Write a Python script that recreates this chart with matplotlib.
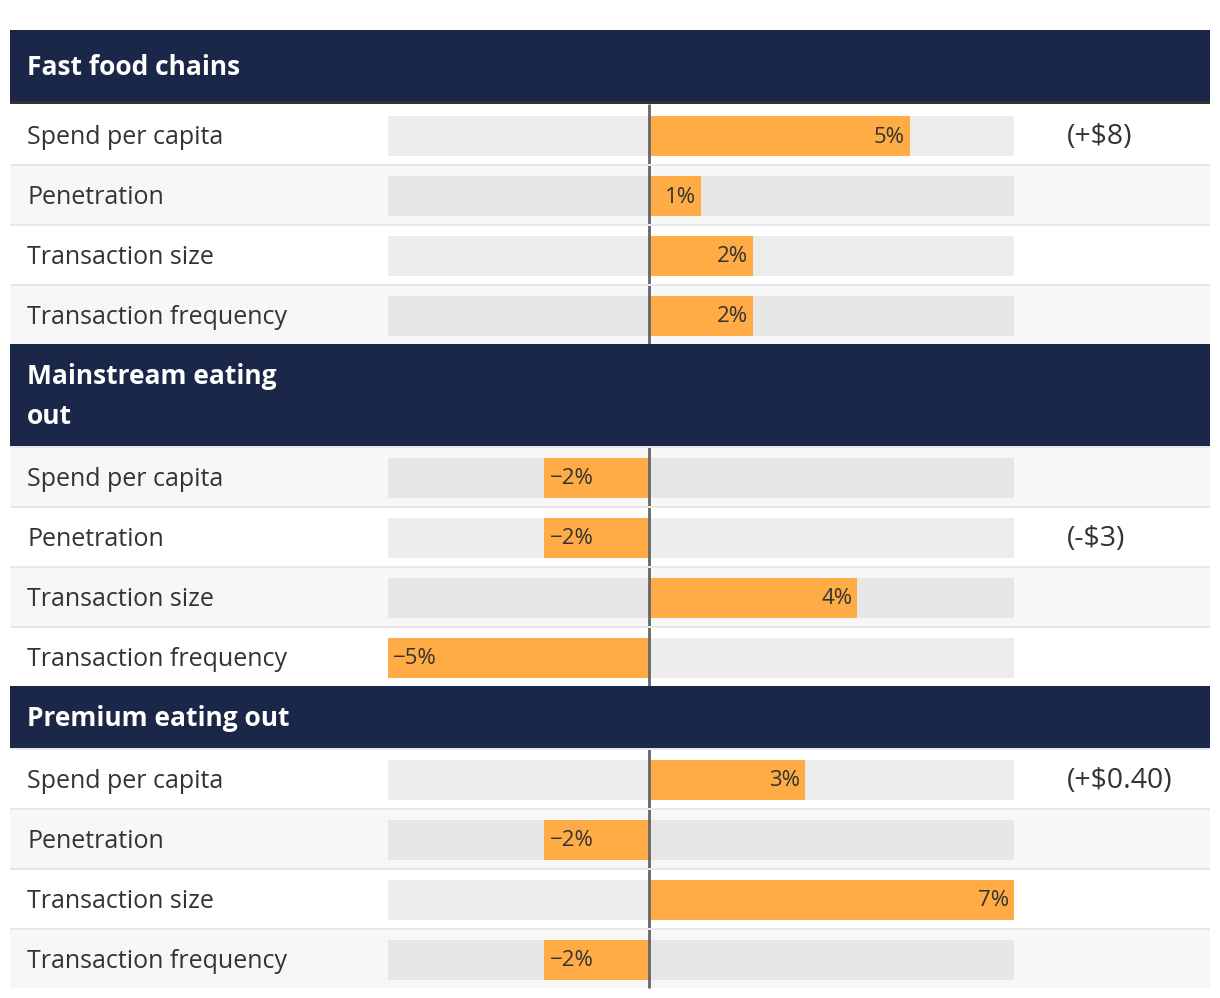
import numpy as np
import matplotlib.pyplot as plt
import matplotlib.transforms as mtransforms

plt.rcParams['font.family'] = ['Open Sans', 'DejaVu Sans']

# data
sections = ["Fast food chains", "Mainstream eating\nout", "Premium eating out"]
metrics = ["Spend per capita", "Penetration", "Transaction size", "Transaction frequency"]
fast_food = [5, 1, 2, 2]
mainstream = [-2, -2, 4, -5]
premium = [3, -2, 7, -2]
fast_food_notes = ["(+$8)", "", "", ""]
mainstream_notes = ["", "(-$3)", "", ""]
premium_notes = ["(+$0.40)", "", "", ""]

values = [fast_food, mainstream, premium]
notes = [fast_food_notes, mainstream_notes, premium_notes]

# layout (pixels)
W, H = 1220, 998
track_px = (388, 1014)
domain = (-5, 7)
header_h = [74, 102, 62]
row_h = 60
bar_h = 40
table_x0, table_x1 = 10, 1210

navy = "#1b2749"
orange = "#ffab46"
text_c = "#333333"

scale = (domain[1] - domain[0]) / (track_px[1] - track_px[0])
xmin = domain[0] - track_px[0] * scale
xmax = domain[1] + (W - track_px[1]) * scale

fig = plt.figure(figsize=(W / 100, H / 100), dpi=100)
ax = fig.add_axes([0, 0, 1, 1])
ax.set_xlim(xmin, xmax)
ax.set_ylim(H, 0)
ax.axis("off")

bt = mtransforms.blended_transform_factory(ax.transAxes, ax.transData)
fx0, fx1 = table_x0 / W, table_x1 / W

y = 30
row_idx = 0
for s, title in enumerate(sections):
    hh = header_h[s]
    ax.axhspan(y, y + hh, xmin=fx0, xmax=fx1, color=navy, lw=0, zorder=5)
    if s == 0:
        ax.axhspan(y + hh - 3, y + hh, xmin=fx0, xmax=fx1, color="#333333", lw=0, zorder=6)
        cy = y + (hh - 3) / 2 + 1.5
    else:
        cy = y + hh / 2 + 1.5
    ax.text(27 / W, cy, title, transform=bt, ha="left", va="center",
            color="white", fontsize=19, fontweight="bold", linespacing=1.6, zorder=7)
    row_idx += 1
    y += hh
    for i, m in enumerate(metrics):
        bg = "#f7f7f7" if row_idx % 2 == 0 else "white"
        track = "#e6e6e6" if row_idx % 2 == 0 else "#ececec"
        ax.axhspan(y, y + row_h, xmin=fx0, xmax=fx1, color=bg, lw=0, zorder=0)
        if not (s == 0 and i == 0):
            ax.axhspan(y, y + 2, xmin=fx0, xmax=fx1, color="#e8e8e8", lw=0, zorder=4)
        yc = y + 12 + bar_h / 2
        ax.barh(yc, domain[1] - domain[0], left=domain[0], height=bar_h,
                color=track, lw=0, zorder=1)
        v = values[s][i]
        ax.barh(yc, v, left=0, height=bar_h, color=orange, lw=0, zorder=2)
        lab = f"{v}%".replace("-", "\u2212")
        if v >= 0:
            ax.text(v - 0.1, yc + 1, lab, ha="right", va="center", color=text_c,
                    fontsize=16, zorder=3)
        else:
            ax.text(v + 0.1, yc + 1, lab, ha="left", va="center", color=text_c,
                    fontsize=16, zorder=3)
        ax.text(27 / W, yc + 1, m, transform=bt, ha="left", va="center",
                color=text_c, fontsize=18, zorder=3)
        if notes[s][i]:
            ax.text(1067 / W, yc + 1, notes[s][i], transform=bt, ha="left",
                    va="center", color=text_c, fontsize=20.5, zorder=3)
        row_idx += 1
        y += row_h

ax.vlines(0, 104, y, color="#666666", lw=2, zorder=3)

fig.savefig("out.png", dpi=100)
